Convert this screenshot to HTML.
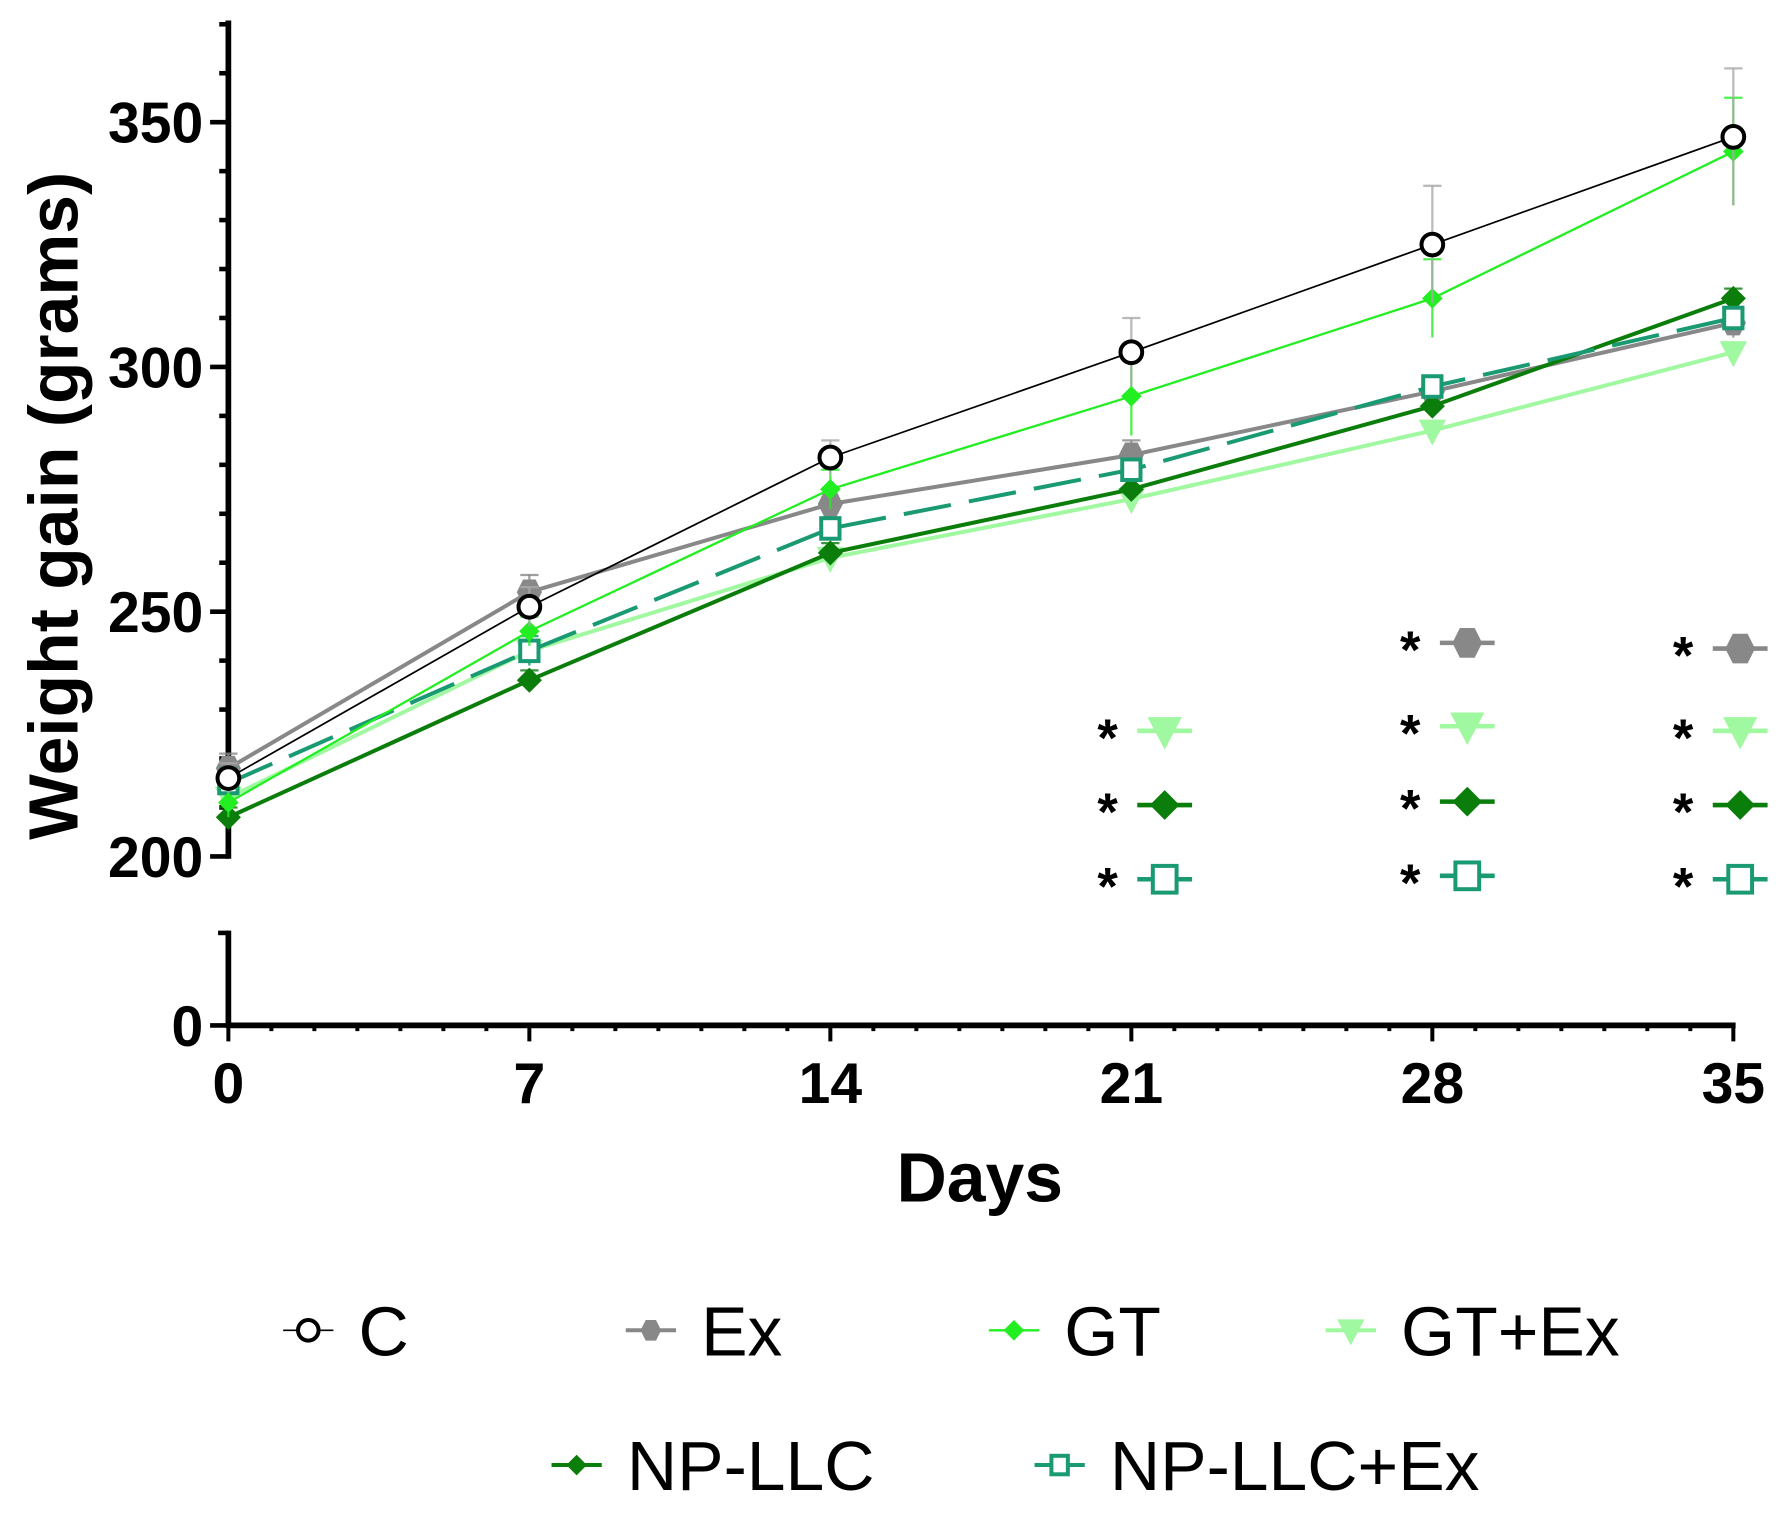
<!DOCTYPE html>
<html><head><meta charset="utf-8"><style>
html,body{margin:0;padding:0;background:#fff;}
svg{display:block;font-family:"Liberation Sans",sans-serif;}
</style></head><body>
<svg id="chart" width="1787" height="1513" viewBox="0 0 1565 1325" preserveAspectRatio="none" xmlns="http://www.w3.org/2000/svg"></svg>
<script>
const days = [0, 7, 14, 21, 28, 35];
const xTicks = [0, 7, 14, 21, 28, 35];
const yTicks = [200, 250, 300, 350];
const seriesNames = ["C", "Ex", "GT", "GT+Ex", "NP-LLC", "NP-LLC+Ex"];
const valsC = [216, 251, 281.5, 303, 325, 347];
const errC = [3, 4, 3.5, 7, 12, 14];
const valsEx = [218, 254, 272, 282, 295, 309];
const errEx = [3, 3.5, 3, 3, 3, 3];
const valsGT = [211, 246, 275, 294, 314, 344];
const errGT = [3, 3, 4, 8, 8, 11];
const valsGTEx = [212, 242, 261, 273, 287, 303];
const errGTEx = [2, 3, 2, 2, 2, 2];
const valsNP = [208, 236, 262, 275, 292, 314];
const errNP = [2, 2, 2, 2, 2, 2];
const valsNPEx = [215, 242, 267, 279, 296, 310];
const errNPEx = [3, 3, 2, 2, 2, 2];

const NS = "http://www.w3.org/2000/svg";
const svg = document.getElementById("chart");
function mk(tag, attrs, parent) {
  const e = document.createElementNS(NS, tag);
  for (const k in attrs) e.setAttribute(k, attrs[k]);
  (parent || svg).appendChild(e);
  return e;
}
const X0 = 200, X1 = 1518;
const xScale = d => X0 + (d - 0) / 35 * (X1 - X0);
const yScale = v => 750 - (v - 200) * (643 / 150);
const Y_ZERO = 898;

const axes = mk("g", {});


mk("line", {x1: X0, y1: 18, x2: X0, y2: 752, stroke: "#000", "stroke-width": 5}, axes);
mk("line", {x1: X0, y1: 815, x2: X0, y2: Y_ZERO + 2, stroke: "#000", "stroke-width": 5}, axes);
mk("line", {x1: X0 - 2, y1: Y_ZERO, x2: X1 + 2, y2: Y_ZERO, stroke: "#000", "stroke-width": 5}, axes);
mk("line", {x1: X0 - 9, y1: 817, x2: X0, y2: 817, stroke: "#000", "stroke-width": 4}, axes);
for (let v = 190; v <= 370; v += 10) {
  const y = yScale(v);
  if (y < 18 || y > 752) continue;
  const major = yTicks.includes(v);
  mk("line", {x1: X0 - (major ? 16 : 8), y1: y, x2: X0, y2: y, stroke: "#000", "stroke-width": 4}, axes);
}
mk("line", {x1: X0 - 16, y1: Y_ZERO, x2: X0, y2: Y_ZERO, stroke: "#000", "stroke-width": 4}, axes);
for (let d = 0; d <= 35; d++) {
  const major = xTicks.includes(d);
  mk("line", {x1: xScale(d), y1: Y_ZERO, x2: xScale(d), y2: Y_ZERO + (major ? 14 : 5), stroke: "#000", "stroke-width": 3.5}, axes);
}
yTicks.forEach(v => {
  const t = mk("text", {x: 178, y: yScale(v) + 18, "text-anchor": "end", "font-size": 50, "font-weight": "bold"});
  
  
  t.textContent = v;
});
const t0 = mk("text", {x: 178, y: Y_ZERO + 18, "text-anchor": "end", "font-size": 50, "font-weight": "bold"});


t0.textContent = "0";
xTicks.forEach(d => {
  const t = mk("text", {x: xScale(d), y: 966, "text-anchor": "middle", "font-size": 50, "font-weight": "bold"});
  
  
  t.textContent = d;
});
const yt = mk("text", {x: 0, y: 0, "text-anchor": "middle", "font-size": 61, "font-weight": "bold", transform: "translate(68,443) rotate(-90)"});


yt.textContent = "Weight gain (grams)";
const xt = mk("text", {x: 858, y: 1052, "text-anchor": "middle", "font-size": 61, "font-weight": "bold"});


xt.textContent = "Days";

function marker(g, type, cx, cy, color, s) {
  if (type === "circleOpen") mk("circle", {cx, cy, r: s, fill: "#fff", stroke: color, "stroke-width": 3.5}, g);
  else if (type === "hex") mk("polygon", {points: `${cx-s*0.5},${cy-s} ${cx+s*0.5},${cy-s} ${cx+s},${cy} ${cx+s*0.5},${cy+s} ${cx-s*0.5},${cy+s} ${cx-s},${cy}`, fill: color}, g);
  else if (type === "diamond") mk("polygon", {points: `${cx},${cy-s} ${cx+s},${cy} ${cx},${cy+s} ${cx-s},${cy}`, fill: color}, g);
  else if (type === "tri") mk("polygon", {points: `${cx-s},${cy-s*0.8} ${cx+s},${cy-s*0.8} ${cx},${cy+s*1.1}`, fill: color}, g);
  else if (type === "square") mk("rect", {x: cx-s*0.8, y: cy-s*0.9, width: s*1.6, height: s*1.8, fill: "#fff", stroke: color, "stroke-width": 3.5}, g);
}
const series = [
  {name: "Ex", vals: valsEx, err: errEx, color: "#888888", w: 3.5, m: "hex", s: 11, dash: null},
  {name: "GT+Ex", vals: valsGTEx, err: errGTEx, color: "#a0f8a0", w: 3.5, m: "tri", s: 12, dash: null},
  {name: "NP-LLC", vals: valsNP, err: errNP, color: "#0a7d0a", w: 3.5, m: "diamond", s: 11, dash: null},
  {name: "NP-LLC+Ex", vals: valsNPEx, err: errNPEx, color: "#1a9a72", w: 3.5, m: "square", s: 10, dash: "42 16"},
  {name: "GT", vals: valsGT, err: errGT, color: "#22ee22", w: 2, m: "diamond", s: 9, dash: null},
  {name: "C", vals: valsC, err: errC, color: "#000000", w: 1.5, m: "circleOpen", s: 9.5, dash: null}
];
series.forEach(sr => {
  const g = mk("g", {});
  
  
  const errColor = sr.name === "C" ? "#aaaaaa" : sr.color;
  days.forEach((d, i) => {
    const x = xScale(d), yTop = yScale(sr.vals[i] + sr.err[i]), yBot = yScale(sr.vals[i] - sr.err[i]);
    mk("line", {x1: x, y1: yTop, x2: x, y2: yBot, stroke: errColor, "stroke-width": 2, opacity: 0.8}, g);
    mk("line", {x1: x - 8, y1: yTop, x2: x + 8, y2: yTop, stroke: errColor, "stroke-width": 2, opacity: 0.8}, g);
  });
  const pts = days.map((d, i) => xScale(d) + "," + yScale(sr.vals[i])).join(" ");
  const pl = mk("polyline", {points: pts, fill: "none", stroke: sr.color, "stroke-width": sr.w}, g);
  if (sr.dash) pl.setAttribute("stroke-dasharray", sr.dash);
  days.forEach((d, i) => {
    marker(g, sr.m, xScale(d), yScale(sr.vals[i]), sr.color, sr.s);
  });
});

const sig = mk("g", {});


const sigCols = [
  {x: 1020, rows: [[null, 0], ["GT+Ex", 640], ["NP-LLC", 705], ["NP-LLC+Ex", 770]]},
  {x: 1285, rows: [["Ex", 563], ["GT+Ex", 636], ["NP-LLC", 702], ["NP-LLC+Ex", 767]]},
  {x: 1524, rows: [["Ex", 568], ["GT+Ex", 640], ["NP-LLC", 705], ["NP-LLC+Ex", 770]]}
];
sigCols.forEach(c => c.rows.forEach(r => {
  if (!r[0]) return;
  const sr = series.find(s => s.name === r[0]);
  mk("text", {x: c.x - 50, y: r[1] + 22, "font-size": 46, "font-weight": "bold", "text-anchor": "middle"}, sig).textContent = "*";
  mk("line", {x1: c.x - 24, y1: r[1], x2: c.x + 24, y2: r[1], stroke: sr.color, "stroke-width": 4}, sig);
  marker(sig, sr.m, c.x, r[1], sr.color, sr.m === "tri" ? 15 : 13);
}));

const legend = [
  ["C", 270, 1165], ["Ex", 570, 1165], ["GT", 888, 1165], ["GT+Ex", 1183, 1165],
  ["NP-LLC", 505, 1283], ["NP-LLC+Ex", 928, 1283]
];
legend.forEach(l => {
  const sr = series.find(s => s.name === l[0]);
  const g = mk("g", {});
  
  
  mk("line", {x1: l[1] - 22, y1: l[2], x2: l[1] + 22, y2: l[2], stroke: sr.color, "stroke-width": sr.w}, g);
  marker(g, sr.m, l[1], l[2], sr.color, sr.m === "tri" ? 12 : 9);
  const t = mk("text", {x: l[1] + 44, y: l[2] + 22, "font-size": 61}, g);
  t.textContent = l[0];
});
</script>
</body></html>
